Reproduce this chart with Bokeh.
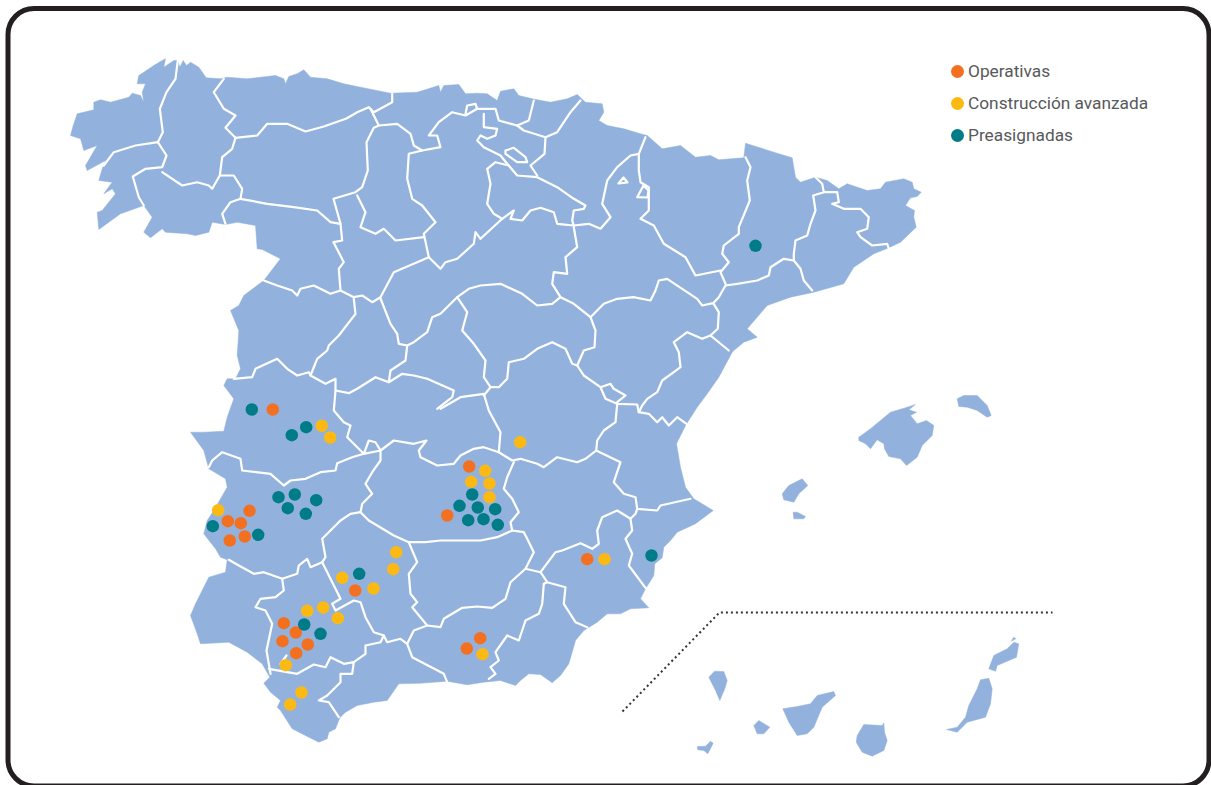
from bokeh.plotting import figure
from bokeh.embed import file_html
from bokeh.resources import INLINE
from bokeh.models import Range1d, BoxAnnotation, ColumnDataSource

# ---------- plant sites ----------
operativas_x = [272.3,249,227.3,240.3,229.3,244.3,354.7,283.3,295.3,282,307.3,295.7,468.7,446.7,586.7,479.7,466.3]
operativas_y = [409,510.3,520.7,522.7,540,536,590,622.7,632,640.7,644,652.7,466,515,558.7,637.7,648]
avanzada_x = [321.3,329.7,217.7,395.7,392.7,341.7,373,306.7,322.7,337.3,285.3,301,289.7,519.7,484.7,470.7,489,489,604,482]
avanzada_y = [425.3,437,509.7,551.7,568.7,577.3,588,610.3,607,617.7,664.7,692,704,441.7,470.3,481.3,483,496.7,558.7,653.7]
preasignadas_x = [755,251.3,305.7,291.3,278,294.3,287.3,315.7,305.3,212.3,257.7,358.7,303.7,320,471.7,459,477.3,494.7,467.7,483,497.3,651]
preasignadas_y = [245.3,409,426.7,434.7,496.7,494,507.7,499.7,513.3,525.7,534.3,573.3,624,633.3,494,505.3,507,508.7,519.7,518.7,524.3,555]
legend_labels = ["Operativas", "Construcción avanzada", "Preasignadas"]
legend_colors = ["#f37021", "#fdb913", "#007c89"]
legend_dot_x = [957, 957, 957]
legend_dot_y = [71, 103, 135]

# ---------- map geometry ----------
mainland = [(70,135),(72.7,125),(76.7,113.3),(93.3,109.3),(93.3,101.7),(100,99.3),(110,101.7),(128.3,96.7),(131.7,92.7),(140,95),(143.3,101.7),(141.7,91.7),(145,83.3),(136.7,83.3),(138.3,75),(153.3,65),(161.7,60),(165,58.3),(163.3,66.7),(173.3,60),(177.3,60),(179.3,66.7),(182.7,60),(186,65),(190,61.7),(198.3,66.7),(205.7,77.3),(220,78.3),(226.7,76.7),(246.7,78.3),(275,75),(283.3,78.3),(285,83.3),(288.3,76),(296.7,73.3),(303.3,69.3),(310,76.7),(326.7,78.3),(343.3,83.3),(360,86.7),(390,92.7),(416.7,91.7),(438.3,85),(440,91.7),(443.3,85),(458.3,84),(465,93.3),(476.7,92.7),(486.7,93.3),(496.7,100),(500,90.7),(513.3,88.3),(518.3,95),(531.7,98.3),(550,101.7),(566.7,98.3),(576.7,94),(585,101.7),(601.7,103.3),(603.3,111.7),(598.3,120),(606.7,125),(623.3,128.3),(640,133.3),(646.7,135),(661.7,148.3),(680,145),(695,156.7),(710,155),(718.3,159.3),(743.3,157.3),(745,142.7),(773.3,151.7),(791.7,157.3),(795,176.7),(800,181.7),(815,176.7),(826.7,180),(838.3,188.3),(846.7,183.3),(866.7,190),(880,188.3),(885,181.7),(903.3,178.3),(911.7,181.7),(913.3,188.3),(920.7,191.7),(916.7,196),(910,197.3),(905,205),(914,210),(913.3,216.7),(915.7,226.7),(900,241.7),(888.3,247.3),(873.3,253.3),(853.3,266.7),(843.3,283.3),(813.3,291.7),(790,296.7),(766.7,305),(746.7,328.3),(756.7,336.7),(743.3,341.7),(733.3,350),(731.7,351.7),(718.3,376.7),(706.7,393.3),(696.7,406.7),(685,425),(676,443.3),(680,466.7),(685,486.7),(693.3,498.3),(712.7,510),(695,523.3),(676.7,531.7),(670,540),(663.3,546.7),(661.7,557.3),(654.3,563.3),(653.3,575),(645,588.3),(640,598.3),(648.3,607.3),(630,608.3),(620,613.3),(606.7,613.3),(596.7,621.7),(583.3,630),(575,640),(568.3,663.3),(560,675),(551.7,682.3),(540,674),(528.3,673.3),(520,680),(515,685),(500,680),(483.3,681.7),(466.7,684.3),(446.7,680.7),(420,682.7),(398.3,683.3),(386.7,700),(373.3,701.7),(356.7,705),(345,711.7),(339.3,717.3),(335,728.3),(328.3,731.7),(326.7,738.3),(318.3,741.7),(308.3,736.7),(291.7,728.3),(280,710),(276.7,706.7),(280,700),(270,691.7),(263.3,682.7),(269.3,676.7),(261.7,663.3),(246.7,651.7),(228.3,641.7),(200,643.3),(196.7,633.3),(190,615),(195,603.3),(208.3,576.7),(225,571.7),(226.7,559.3),(220,556.7),(215,548.3),(203.3,533.3),(206.7,520),(213.3,510),(226.7,486.7),(225,478.3),(208.3,468.3),(203.3,450),(190,431.7),(203.3,431.7),(223.3,430.7),(226.7,416.7),(233.3,398.3),(223.3,385),(226.7,378.3),(235,378.3),(240,368.3),(236.7,355),(238.3,330),(230,310),(238.3,305),(243.3,295),(263.3,280),(280,258.3),(261.7,249),(256.7,248.3),(255,225),(236.7,221.7),(225,224),(211.7,221.7),(208.3,231.7),(195,235),(186.7,233.3),(165,231.7),(161.7,228.3),(150,237.3),(143.3,231.7),(151.7,216.7),(143.3,205),(120,213.3),(98.3,229),(96.7,211.7),(101.7,210),(115,193.3),(111.7,188.3),(103.3,193.3),(111.7,181.7),(98.3,180),(101.7,168.3),(105,160),(86.7,170),(85,165),(96.7,145),(83.3,150),(80,138.3)]
mallorca = [(858.3,436.7),(870,428.3),(880,420),(890,411.7),(906.7,406.7),(915,404),(908.3,409.3),(916,411.7),(910,415),(916.7,423.3),(926,420),(933.3,425),(931.7,435),(921.7,445),(916.7,456.7),(906,465),(900,458.3),(888.3,456),(884,448.3),(883.3,443.3),(876.7,439.3),(870,448.3),(865,443.3),(858.3,440)]
menorca = [(956.7,398.3),(963.3,395),(976.7,395),(986.7,405),(990.7,415),(986.7,416.7),(976.7,410),(966.7,406.7),(958.3,406)]
ibiza = [(781.7,493.3),(788.3,485),(801.7,478.3),(807.3,485),(798.3,493.3),(793.3,501.7),(783.3,499.3)]
formentera = [(792.7,511.7),(796.7,511.7),(805,516),(803.3,518.3),(793.3,518.3)]
la_palma = [(708.3,676.7),(714,670.7),(723.3,671),(726.7,680),(724.3,688.3),(719.3,700),(715,690)]
la_gomera = [(753.3,725),(758.3,720),(769.3,726.7),(763.3,733.3),(756.7,733.3)]
el_hierro = [(696.7,746),(705,745.7),(710,740.7),(712.7,742.7),(707.3,753.3),(703.3,750),(697.3,749.3)]
tenerife = [(782.3,708.3),(796.7,706),(810,703.3),(816.7,695),(833.3,691),(835,695),(821.7,706.7),(813.3,726.7),(806.7,733.3),(796.7,735),(788.3,721.7)]
gran_canaria = [(863.3,724),(881.7,725),(883.3,722.3),(884,731.7),(886.7,740),(883.3,750),(871.7,755.7),(861.7,751.7),(855.7,741.7),(856.7,735)]
fuerteventura = [(946,729),(956.7,726.7),(965,716.7),(968.3,705),(976.7,688.3),(980,679.3),(988.3,677.7),(991.7,688.3),(990,703.3),(985,716.7),(966.7,721.7),(956.7,731.7)]
lanzarote = [(988.3,668.3),(993.3,655),(1006.7,648.3),(1013.3,641.7),(1018.3,643.3),(1016,656.7),(996.7,665),(995,670.7)]
graciosa = [(1010.7,640.7),(1013.3,636.7),(1015.3,638.3)]
land = [mainland,mallorca,menorca,ibiza,formentera,la_palma,la_gomera,el_hierro,tenerife,gran_canaria,fuerteventura,lanzarote,graciosa]

borders = [
 [(177.3,60),(175,78.3),(166,91.7),(159.3,108.3),(162.3,131.7),(157.3,141.7)],
 [(157.3,141.7),(135,145),(113.3,151.7),(103.3,165)],
 [(157.3,141.7),(166,155),(161.7,166.7),(145,168.3),(132.3,176),(138.3,196.7),(143.3,205)],
 [(161.7,171.7),(181.7,185),(196.7,181.7),(208.3,185),(211.7,188.3),(219.3,175)],
 [(223.3,78.3),(213.3,91.7),(223.3,108.3),(235,115),(225,127.3),(235,137.3),(231.7,148.3),(221.7,156.7),(219.3,175),(233.3,175),(241.7,188.3),(240,198.3),(230,201.7),(221.7,213.3),(225,223.3)],
 [(235,137.3),(256.7,135),(266.7,123.3),(286.7,123.3),(305,131),(323.3,126),(346,118),(356.7,111.7),(368.3,106.7),(373.3,111.7),(391.7,101.7),(391.7,93.3)],
 [(240,198.3),(266.7,203.3),(293.3,206.7),(316.7,210),(330,221.7),(340,223.3),(341.7,240),(333,241.7),(343.3,261.7),(338.3,268.3),(340,290)],
 [(340,223.3),(333,198.3),(355,191.7),(361.7,186.7),(367.3,170),(366,141.7),(373.3,127.3),(378.3,125),(370,108.3)],
 [(356.7,195),(365,211.7),(360,226.7),(375,233.3),(383.3,228.3),(395,240),(423.3,236.7)],
 [(378.3,125),(396.7,123.3),(410,133.3),(413.3,145),(421.7,150),(440,146.7),(436.7,135),(428.3,135),(438.3,121.7),(451.7,111.7),(465,115),(476.7,108.3),(475,103.3),(466.7,105),(465,113.3)],
 [(421.7,150),(408.3,153.3),(406.7,178.3),(411.7,198.3),(421.7,205),(435,221.7),(423.3,233.3),(428.3,256.7),(440,268.3),(445,261.7),(456.7,258.3),(473.3,243.3),(475,231.7),(480,238.3),(501.7,218.3)],
 [(263.3,280),(276.7,285),(291.7,290),(296.7,295),(300,288.3),(313.3,285),(330,293.3),(340,290),(353.3,296.7),(361.7,295),(371.7,301.7),(380,296.7),(393.3,271.7),(428.3,256.7)],
 [(353.3,298.3),(355,313.3),(338.3,335),(328.3,345),(326.7,350),(316.7,358.3),(310,375)],
 [(233.3,378.3),(251.7,376.7),(255,368.3),(276.7,358.3),(286.7,368.3),(296.7,375),(308.3,371.7),(310,375),(325,383.3),(335,378.3),(335,390),(333.3,410),(343.3,421.7),(350,425),(346.7,436.7),(363.3,453.3)],
 [(335,390),(348.3,392.7),(356.7,388.3),(375,376.7),(388.3,381.7),(390,370),(405,360),(406.7,345),(398.3,343.3),(396.7,333.3),(390,323.3),(380,298)],
 [(388.3,381.7),(401.7,373.3),(413.3,375),(426.7,378.3),(453.3,390),(451.7,396.7),(436.7,408.3)],
 [(406.7,345),(413.3,341.7),(426.7,331.7),(431.7,316.7),(440,313.3),(456.7,296.7),(466.7,311.7),(461.7,330),(473.3,343.3),(485,360),(483.3,376.7),(490,386.7),(483.3,395)],
 [(440,408.3),(460,396.7),(483.3,393.3),(488.3,410),(500,431.7),(498.3,451.7),(511.7,460),(520,458.3),(536.7,463.3),(543.3,466.7),(556.7,456.7),(576.7,461.7),(585,458.3),(595.7,450),(596.7,440),(603.3,430),(615,421.7),(616.7,403.3)],
 [(456.7,296.7),(468.3,288.3),(480,285),(500,283.3),(521.7,293.3),(536.7,305),(551.7,303.3),(560,296.7),(551.7,283.3),(553.3,271.7),(566.7,273.3),(565,256.7),(576.7,246.7),(573.3,226.7)],
 [(560,296.7),(573.3,303.3),(590,316.7),(595,330),(594,346.7),(583.3,350),(576.7,365),(583.3,375),(600,386.7),(605,398.3),(616.7,403.3),(636.7,404),(638.3,411.7),(648.3,413.3),(656.7,421.7),(661.7,416.7),(668.3,425),(676.7,416.7),(686,423.3)],
 [(490,386.7),(498.3,386.7),(506.7,378.3),(508.3,361.7),(523.3,358.3),(536.7,348.3),(551.7,341.7),(565,348.3),(571.7,363.3),(576.7,365)],
 [(600,386.7),(610,383.3),(613.3,388.3),(625,395),(616.7,401.7)],
 [(498.3,451.7),(483.3,446.7),(473.3,448.3),(460,455),(453.3,463.3),(436.7,465),(420,456.7),(418.3,450),(426,440),(413.3,443.3),(393.3,440),(380,450),(363.3,453.3),(368.3,440),(375,441.7),(380,450),(380,460),(371.7,471.7),(365,483.3),(371.7,493.3),(361.7,503.3),(360,511.7),(350,513.3),(340,520),(321.7,538.3),(325,556.7),(321.7,561.7),(340,598.3),(331.7,603.3),(335,610),(353.3,600),(360,601.7),(365,616.7),(373.3,631.7),(383.3,635),(386.7,641.7),(400,638.3),(406.7,643.3),(411.7,656.7),(443.3,673.3),(446.7,681.7)],
 [(363.3,453.3),(351.7,456.7),(336.7,462.7),(335,470),(320,471.7),(305,478.3),(290,480),(283.3,485),(270,473.3),(241.7,470),(240,458.3),(221.7,451.7),(211.7,460),(208.3,466.7)],
 [(321.7,561.7),(310,566.7),(306.7,558.3),(298.3,565),(296.7,573.3),(281.7,578.3),(263.3,571.7),(253.3,573.3),(238.3,565),(228.3,559.3)],
 [(281.7,578.3),(283.3,590),(275,596.7),(260,598.3),(255,606.7),(265,610),(271.7,623.3),(266,650),(270,673.3)],
 [(268.3,668.3),(296.7,673.3),(313.3,664),(325,666.7),(330,656.7),(343.3,663.3),(353.3,661.7),(351.7,673.3),(340,673.3),(340,681.7),(326.7,695),(318.3,700),(328.3,701.7),(338.3,716.7)],
 [(353.3,661.7),(365,653.3),(365,645),(380,641.7),(383.3,635)],
 [(280,663.3),(286,655)],
 [(360,511.7),(368.3,520),(393.3,535),(408.3,541.7),(416.7,561.7),(408.3,573.3),(410,593.3),(416.7,601.7),(411.7,606.7),(426.7,625),(413.3,630),(406.7,643.3)],
 [(426.7,625),(440,626.7),(443.3,618.3),(461.7,607.3),(476.7,606),(491.7,607.3),(505,598.3),(510,581.7),(525,568.3),(533.3,551.7),(526.7,538.3),(523.3,531.7),(511.7,530),(496.7,536.7),(480,540),(456.7,540),(440,540),(425,541.7),(408.3,541.7)],
 [(511.7,530),(510,521.7),(518.3,511.7),(511.7,498.3),(503.3,488.3),(506.7,476.7),(513.3,461.7)],
 [(595.7,450),(620,461.7),(613.3,481.7),(623.3,493.3),(635,496.7),(636.7,508.3),(656.7,510),(660,505),(690,498.3)],
 [(636.7,508.3),(635,513.3),(630,518.3),(631.7,530),(625,538.3),(631.7,553.3),(628.3,565),(645,587.3)],
 [(630,518.3),(616.7,510),(601.7,516.7),(596.7,530),(598.3,543.3),(591.7,548.3),(580,542.7),(561.7,550),(555,551.7),(540,571.7),(525,568.3)],
 [(540,571.7),(546.7,581.7),(565,586.7),(563.3,603.3),(575,621.7),(586.7,626.7)],
 [(546.7,581.7),(543.3,583.3),(541.7,603.3),(538.3,613.3),(525,620),(518.3,640),(506.7,635),(495,651.7),(498.3,660),(490,666.7),(495,673.3),(488.3,678.3)],
 [(476.7,108.3),(495,108.3),(498.3,120),(516.7,125),(528.3,120),(533.3,100)],
 [(516.7,125),(523.3,130),(545,136.7),(556.7,131.7),(570,111.7),(580,100)],
 [(483.3,113.3),(483.3,126.7),(496.7,128.3),(495,135),(486.7,138.3),(480,135),(476.7,140),(483.3,146.7),(500,155),(506.7,163.3),(516.7,175),(536.7,176.7),(556.7,186.7),(573.3,198.3),(585,205),(583.3,208.3),(573.3,210),(571.7,220),(573.3,225)],
 [(545,136.7),(544,153.3),(530,165),(536.7,175)],
 [(505,150),(513.3,147.3),(525,156.7),(526.7,161.7),(516.7,161.7),(505,153.3),(505,150)],
 [(573.3,225),(556.7,223.3),(553.3,211.7),(540,207.3),(530,210),(521.7,220),(510,218.3),(513.3,210),(501.7,218.3),(493.3,213.3),(486.7,203.3),(490,183.3),(486.7,168.3),(495,161.7),(508.3,165)],
 [(573.3,225),(588.3,223.3),(600,228.3),(610,216.7),(601.7,203.3),(606.7,180),(616.7,166.7),(630,155),(638.3,153.3),(645,136.7)],
 [(638.3,153.3),(638.3,170),(640,181.7),(648.3,186.7),(648.3,210),(640,218.3),(653.3,225),(663.3,243.3),(685,256.7),(695,275),(720,270)],
 [(636.7,196.7),(643,185),(648,190),(647,197),(636.7,196.7)],
 [(618,183),(623,177),(627,182),(618,183)],
 [(745,156.7),(750,166.7),(746.7,180),(749.3,200),(738.3,226.7),(738.3,233.3),(723.3,245),(721.7,253.3),(728.3,261.7),(720,271.7),(725,283.3)],
 [(815,176.7),(821.7,183.3),(823.3,191.7),(812.7,195),(815,210),(810,223.3),(806.7,235),(795,240),(793.3,253.3),(793.3,260),(783.3,258.3),(770,266.7),(768.3,275),(756.7,280),(736.7,283.3),(725,285),(718.3,296.7),(712.7,302.7),(718.3,311.7),(717.3,328.3),(710,335),(701.7,338.3),(686.7,331.7),(673.3,341.7),(678.3,351.7),(680,366.7),(673.3,371.7),(661.7,380),(656.7,391.7),(646.7,398.3),(641.7,405),(638.3,411.7)],
 [(823.3,191.7),(836.7,191.7),(838.3,201.7),(831.7,203.3),(843.3,208.3),(860,208.3),(868.3,216.7),(866.7,228.3),(856.7,231.7),(860,236.7),(871.7,245),(886.7,243.3),(888.3,248)],
 [(793.3,260),(800,268.3),(803.3,280),(811.7,290)],
 [(590,316.7),(603.3,303.3),(616.7,298.3),(633,296.7),(650,300),(655,290),(658.3,280),(666.7,278.3),(696.7,298.3),(701.7,305),(712.7,302.7)],
 [(710,335),(728.3,350)],
]
dotted_x = [622,719,1052]
dotted_y = [711,612,612]

p = figure(width=1211, height=785, x_range=Range1d(0,1211), y_range=Range1d(785,0),
           output_backend="svg", toolbar_location=None, min_border=0,
           outline_line_color=None, background_fill_color="white", border_fill_color="white",
           margin=0)
p.axis.visible = False
p.grid.visible = False

p.patches([[c[0] for c in s] for s in land], [[c[1] for c in s] for s in land],
          fill_color="#92b2dd", line_color="#92b2dd", line_width=0.5)
p.multi_line([[c[0] for c in s] for s in borders], [[c[1] for c in s] for s in borders],
             line_color="white", line_width=2.2, line_join="round", line_cap="round")
p.line(dotted_x, dotted_y, line_color="#333333", line_width=2, line_dash="2 3")

p.scatter(operativas_x, operativas_y, size=12.5, color=legend_colors[0], line_color=None, legend_label=legend_labels[0])
p.scatter(avanzada_x, avanzada_y, size=12.5, color=legend_colors[1], line_color=None, legend_label=legend_labels[1])
p.scatter(preasignadas_x, preasignadas_y, size=12.5, color=legend_colors[2], line_color=None, legend_label=legend_labels[2])
# full-size legend dots (Bokeh scales legend markers down with the glyph box)
p.scatter(legend_dot_x, legend_dot_y, size=13, color=legend_colors, line_color=None)

leg = p.legend[0]
leg.location = (951, 634.5)
leg.background_fill_alpha = 0
leg.border_line_color = None
leg.padding = 0
leg.margin = 0
leg.spacing = 1
leg.glyph_height = 31
leg.glyph_width = 12
leg.label_height = 31
leg.label_standoff = 5
leg.label_text_font = "Roboto"
leg.label_text_font_size = "17.3px"
leg.label_text_color = "#58595b"

p.add_layout(BoxAnnotation(left=7.5, right=1208.5, top=8, bottom=785.5, border_radius=26,
                           fill_alpha=0, line_color="#231f20", line_alpha=1, line_width=5))

open("out.html", "w").write(file_html(p, INLINE))
